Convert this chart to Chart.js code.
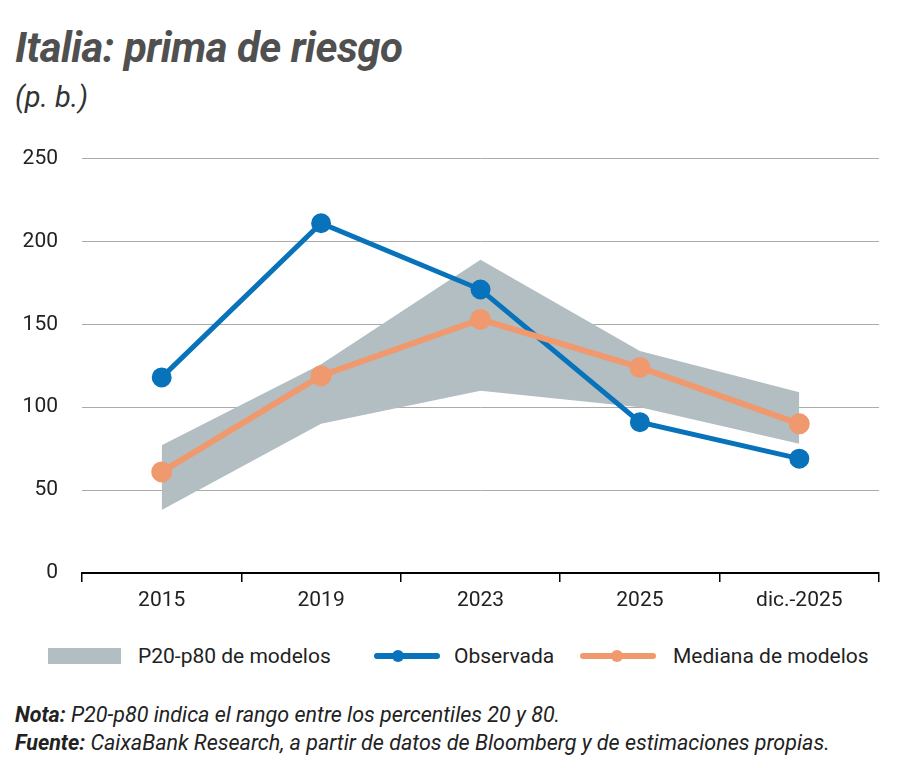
<!DOCTYPE html>
<html>
<head>
<meta charset="utf-8">
<script src="https://cdn.jsdelivr.net/npm/chart.js@4"></script>
<style>
  body { margin: 0; width: 900px; height: 768px; background: #fff; position: relative; overflow: hidden;
         font-family: "Roboto", sans-serif; color: #222; }
  .abs { position: absolute; white-space: nowrap; }
  #title { left: 15px; top: 23px; font-size: 42px; font-weight: bold; font-style: italic; color: #505050; letter-spacing: -0.5px; }
  #units { left: 15px; top: 80px; font-size: 29px; font-style: italic; color: #333; }
  #chartBox { position: absolute; left: 0; top: 122px; width: 900px; height: 498px; }
  .legend-text { font-size: 21px; top: 644px; }
  .swatch { left: 48px; top: 648px; width: 73px; height: 16px; background: #b2bec2; }
  .ln { height: 6px; border-radius: 3px; top: 653px; }
  .dot { width: 12px; height: 12px; border-radius: 6px; top: 650px; }
  .note { left: 15px; font-size: 21.5px; font-style: italic; }
</style>
</head>
<body>
<div id="title" class="abs">Italia: prima de riesgo</div>
<div id="units" class="abs">(p. b.)</div>
<div id="chartBox"><canvas id="riskChart"></canvas></div>

<div class="abs swatch"></div>
<div class="abs legend-text" style="left:138px">P20-p80 de modelos</div>
<div class="abs ln" style="left:374px;width:66px;background:#0873ba"></div>
<div class="abs dot" style="left:392px;background:#0873ba"></div>
<div class="abs legend-text" style="left:454px">Observada</div>
<div class="abs ln" style="left:580px;width:76px;background:#f0996e"></div>
<div class="abs dot" style="left:611px;background:#f0996e"></div>
<div class="abs legend-text" style="left:673px">Mediana de modelos</div>

<div class="abs note" style="top:702px"><b>Nota:</b> P20-p80 indica el rango entre los percentiles 20 y 80.</div>
<div class="abs note" style="top:730px"><b>Fuente:</b> CaixaBank Research, a partir de datos de Bloomberg y de estimaciones propias.</div>

<script>
// Chart values
const categories = ['2015', '2019', '2023', '2025', 'dic.-2025'];
const observada = [118, 211, 171, 91, 69];
const mediana = [61, 119, 153, 124, 90];
const p20 = [38, 90, 110, 100, 78];
const p80 = [77, 126, 189, 134, 109];
const yTicks = [0, 50, 100, 150, 200, 250];

const ctx = document.getElementById('riskChart').getContext('2d');

const riskChart = new Chart(ctx, {
    type: 'line',
    data: {
        labels: categories,
        datasets: [
            {
                label: 'P20',
                data: p20,
                borderWidth: 0,
                pointRadius: 0,
                fill: false,
                order: 3
            },
            {
                label: 'P20-p80 de modelos',
                data: p80,
                borderWidth: 0,
                pointRadius: 0,
                backgroundColor: '#b2bec2',
                fill: '-1',
                order: 3
            },
            {
                label: 'Observada',
                data: observada,
                borderColor: '#0873ba',
                backgroundColor: '#0873ba',
                borderWidth: 5,
                pointRadius: 7.5,
                pointHoverRadius: 7.5,
                tension: 0,
                order: 2
            },
            {
                label: 'Mediana de modelos',
                data: mediana,
                borderColor: '#f0996e',
                backgroundColor: '#f0996e',
                borderWidth: 6,
                pointRadius: 7.5,
                pointHoverRadius: 7.5,
                tension: 0,
                order: 1
            }
        ]
    },
    options: {
        responsive: true,
        maintainAspectRatio: false,
        animation: false,
        layout: { padding: { top: 0, right: 21, left: 0, bottom: 0 } },
        plugins: { legend: { display: false }, tooltip: { enabled: false } },
        scales: {
            x: {
                offset: true,
                grid: {
                    offset: true,
                    drawOnChartArea: false,
                    drawTicks: true,
                    tickLength: 9,
                    color: '#000',
                    lineWidth: 1.5
                },
                border: { display: true, color: '#000', width: 2 },
                ticks: { color: '#222', padding: 6, font: { family: 'Roboto, sans-serif', size: 21 } },
                afterFit: function (scale) { scale.height = 47; }
            },
            y: {
                min: 0,
                max: 250,
                afterBuildTicks: function (scale) { scale.ticks = yTicks.map(v => ({ value: v })); },
                grid: {
                    drawTicks: false,
                    color: c => (c.tick && c.tick.value === 0) ? 'rgba(0,0,0,0)' : '#ababab',
                    lineWidth: 1
                },
                border: { display: false },
                ticks: { color: '#222', padding: 24, font: { family: 'Roboto, sans-serif', size: 21 } },
                afterFit: function (scale) { scale.width = 82; }
            }
        }
    }
});
</script>
</body>
</html>
